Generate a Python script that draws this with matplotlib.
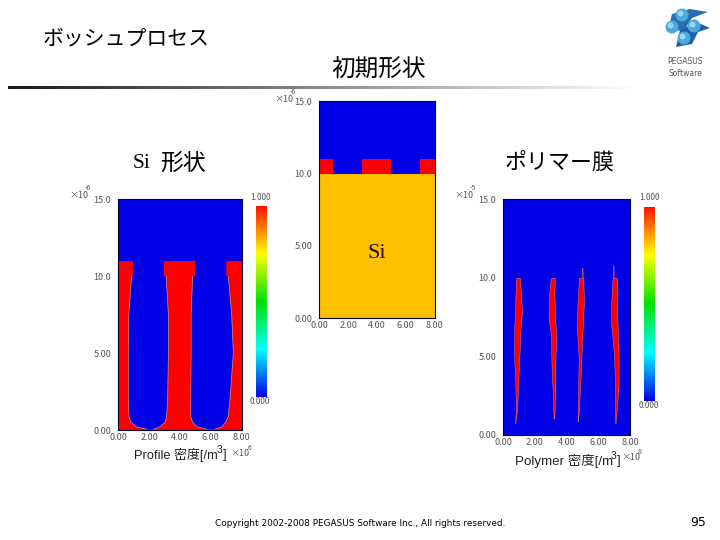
import numpy as np
import matplotlib
matplotlib.use("Agg")
import matplotlib.pyplot as plt
from matplotlib.colors import LinearSegmentedColormap
from matplotlib.patches import Circle, Polygon

plt.rcParams['font.family'] = ['Noto Sans CJK JP', 'DejaVu Sans']

W, H = 720, 540

xticks = [0, 2, 4, 6, 8]
xticklabels = ["0.00", "2.00", "4.00", "6.00", "8.00"]
yticks = [0, 5, 10, 15]
yticklabels = ["0.00", "5.00", "10.0", "15.0"]

# mask blocks, x from / x to
mask_blocks = [(0.0, 0.95), (2.96, 4.97), (7.0, 8.0)]

# etched trenches in the Si profile, the step at y=10 is the mask undercut
trench_y = [0.05, 0.2, 0.5, 0.87, 2.0, 5.0, 7.5, 10.0, 10.0, 11.0]
trench1_left = [1.84, 1.19, 0.82, 0.69, 0.65, 0.65, 0.68, 0.86, 0.95, 0.95]
trench1_right = [2.27, 2.7, 3.03, 3.13, 3.2, 3.25, 3.25, 3.1, 2.96, 2.96]
trench2_left = [5.73, 5.12, 4.82, 4.69, 4.7, 4.72, 4.72, 4.82, 4.97, 4.97]
trench2_right = [6.27, 6.7, 6.96, 7.13, 7.24, 7.46, 7.35, 7.13, 7.0, 7.0]

# polymer slivers on the side walls
sliver1_y = [0.75, 1.7, 3.2, 4.9, 6.8, 7.85, 10.0]
sliver1_left = [0.74, 0.80, 0.76, 0.69, 0.69, 0.74, 0.80]
sliver1_right = [0.76, 0.88, 0.93, 1.01, 1.09, 1.18, 1.05]
sliver2_y = [1.06, 2.76, 4.24, 6.36, 7.4, 8.9, 10.0]
sliver2_left = [3.18, 3.12, 3.05, 3.01, 2.86, 2.88, 3.01]
sliver2_right = [3.22, 3.28, 3.28, 3.33, 3.28, 3.22, 3.26]
sliver3_y = [0.85, 2.76, 4.9, 6.8, 8.5, 10.0, 10.0, 10.65]
sliver3_left = [4.69, 4.72, 4.76, 4.65, 4.69, 4.78, 4.97, 4.98]
sliver3_right = [4.72, 4.84, 4.93, 5.01, 5.09, 5.05, 5.01, 5.00]
sliver4_y = [0.75, 3.2, 5.1, 7.0, 8.5, 10.0, 10.0, 10.78]
sliver4_left = [7.05, 7.05, 6.99, 6.82, 6.82, 6.90, 6.93, 6.94]
sliver4_right = [7.09, 7.28, 7.28, 7.22, 7.16, 7.20, 6.97, 6.96]

BLUE = "#0000e6"
RED = "#ff0000"
SI = "#ffc000"
GREY = "#555555"
WALL = "#d89090"

rainbow = LinearSegmentedColormap.from_list(
    "rainbow_bar", ["#0000e6", "#00ffff", "#00e000", "#ffff00", "#ff1000"])


def box(left, top, right, bottom):
    return [left / W, 1 - bottom / H, (right - left) / W, (bottom - top) / H]


def panel(fig, rect):
    ax = fig.add_axes(box(*rect))
    ax.set_facecolor(BLUE)
    ax.set_xlim(0, 8)
    ax.set_ylim(0, 15)
    ax.set_xticks(xticks)
    ax.set_xticklabels(xticklabels)
    ax.set_yticks(yticks)
    ax.set_yticklabels(yticklabels)
    ax.tick_params(length=0, labelsize=6.5, labelcolor=GREY)
    ax.tick_params(axis="y", pad=5)
    ax.tick_params(axis="x", pad=2)
    for s in ax.spines.values():
        s.set_linewidth(0.8)
        s.set_color("#000030")
    return ax


def colorbar(fig, rect):
    ax = fig.add_axes(box(*rect))
    ax.imshow(np.linspace(1, 0, 256).reshape(-1, 1), cmap=rainbow, aspect="auto")
    ax.axis("off")


fig = plt.figure(figsize=(W / 100, H / 100), dpi=100, facecolor="white")

# Si profile, left
ax = panel(fig, (118.3, 199.3, 241.7, 430))
ax.fill_between([0, 8], 0, 10, color=RED, lw=0)
for x0, x1 in mask_blocks:
    ax.fill_between([x0, x1], 10, 11, color=RED, lw=0)
for left, right in [(trench1_left, trench1_right), (trench2_left, trench2_right)]:
    ax.fill_betweenx(trench_y, left, right, facecolor=BLUE, lw=0)
    ax.plot(left[:8], trench_y[:8], color=WALL, lw=0.5)
    ax.plot(right[:8], trench_y[:8], color=WALL, lw=0.5)

# initial shape, middle
ax = panel(fig, (319.3, 101.3, 434.7, 318.3))
ax.fill_between([0, 8], 0, 10, color=SI, lw=0)
for x0, x1 in mask_blocks:
    ax.fill_between([x0, x1], 10, 11, color=RED, lw=0)

# polymer film, right
ax = panel(fig, (503.3, 199.3, 630, 435))
for yy, x0, x1 in [(sliver1_y, sliver1_left, sliver1_right),
                   (sliver2_y, sliver2_left, sliver2_right),
                   (sliver3_y, sliver3_left, sliver3_right),
                   (sliver4_y, sliver4_left, sliver4_right)]:
    ax.fill_betweenx(yy, x0, x1, facecolor=RED, edgecolor=WALL, lw=0.3)

colorbar(fig, (256, 206, 266.7, 396.7))
colorbar(fig, (644, 206.7, 655, 400.7))

# rule under the title, fades out to the right
ax = fig.add_axes(box(8, 86, 640, 89))
ax.imshow(np.linspace(0.1, 1, 256).reshape(1, -1), cmap="gray", vmin=0, vmax=1, aspect="auto")
ax.axis("off")

# overlay in pixel coordinates for slide text and logo
ov = fig.add_axes([0, 0, 1, 1], facecolor="none")
ov.set_xlim(0, W)
ov.set_ylim(H, 0)
ov.axis("off")


def label(x, y, s, size, color="black", ha="left", **kw):
    ov.text(x, y, s, fontsize=size, color=color, ha=ha, va="center", **kw)


label(43, 38, "ボッシュプロセス", 15)
label(331, 70, "初期形状", 17)
label(505, 163, "ポリマー膜", 15.8)
label(133, 163, "Si", 15.5, family="Liberation Serif")
label(160, 163, "形状", 16.5)
label(377, 253, "Si", 16, ha="center", family="Liberation Serif", color="#201000")

# colour bar limits
label(260, 197, "1.000", 6, GREY, "center")
label(260, 402, "0.000", 6, GREY, "center")
label(649, 197, "1.000", 6, GREY, "center")
label(649, 406, "0.000", 6, GREY, "center")

# axis exponents
label(69, 195, "×10", 6.5, GREY)
label(85, 188, "-6", 5, GREY)
label(274, 99, "×10", 6.5, GREY)
label(290, 92, "-6", 5, GREY)
label(454, 195, "×10", 6.5, GREY)
label(470, 188, "-5", 5, GREY)
label(230, 453, "×10", 6.5, GREY)
label(248, 448, "6", 5, GREY)
label(621, 457, "×10", 6.5, GREY)
label(638, 452, "8", 5, GREY)

# axis titles
label(134, 455, "Profile 密度[/m", 9.3, "#222222", family=["Liberation Sans", "Noto Sans CJK JP"])
label(217, 450, "3", 7.5, "#222222", family="Liberation Sans")
label(223, 455, "]", 9.3, "#222222", family="Liberation Sans")
label(515, 461, "Polymer 密度[/m", 9.6, "#222222", family=["Liberation Sans", "Noto Sans CJK JP"])
label(611, 456, "3", 7.5, "#222222", family="Liberation Sans")
label(617, 461, "]", 9.6, "#222222", family="Liberation Sans")

label(360, 524, "Copyright 2002-2008 PEGASUS Software Inc., All rights reserved.", 6.4,
      "black", "center", family="DejaVu Sans")
label(698, 523, "95", 9, "black", "center", family="DejaVu Sans")

# logo
ov.add_patch(Polygon([(672, 14), (690, 9), (708, 12), (692, 18), (684, 30), (668, 32)],
                     closed=True, fc="#2a6cb0", ec="none"))
ov.add_patch(Polygon([(680, 30), (696, 22), (710, 28), (698, 32), (692, 44), (676, 47)],
                     closed=True, fc="#1f5fa8", ec="none"))
for cx, cy in [(682, 15), (672, 27), (694, 26), (684, 38)]:
    ov.add_patch(Circle((cx, cy), 6.5, fc="#4aa8dc", ec="none"))
    ov.add_patch(Circle((cx - 1.5, cy - 1.5), 3, fc="#9ad6f2", ec="none"))
label(685, 61, "PEGASUS", 5.5, "#555555", "center", family="DejaVu Sans")
label(685, 73, "Software", 5.5, "#555555", "center", family="DejaVu Sans")

fig.savefig("out.png", dpi=100)
plt.close()
